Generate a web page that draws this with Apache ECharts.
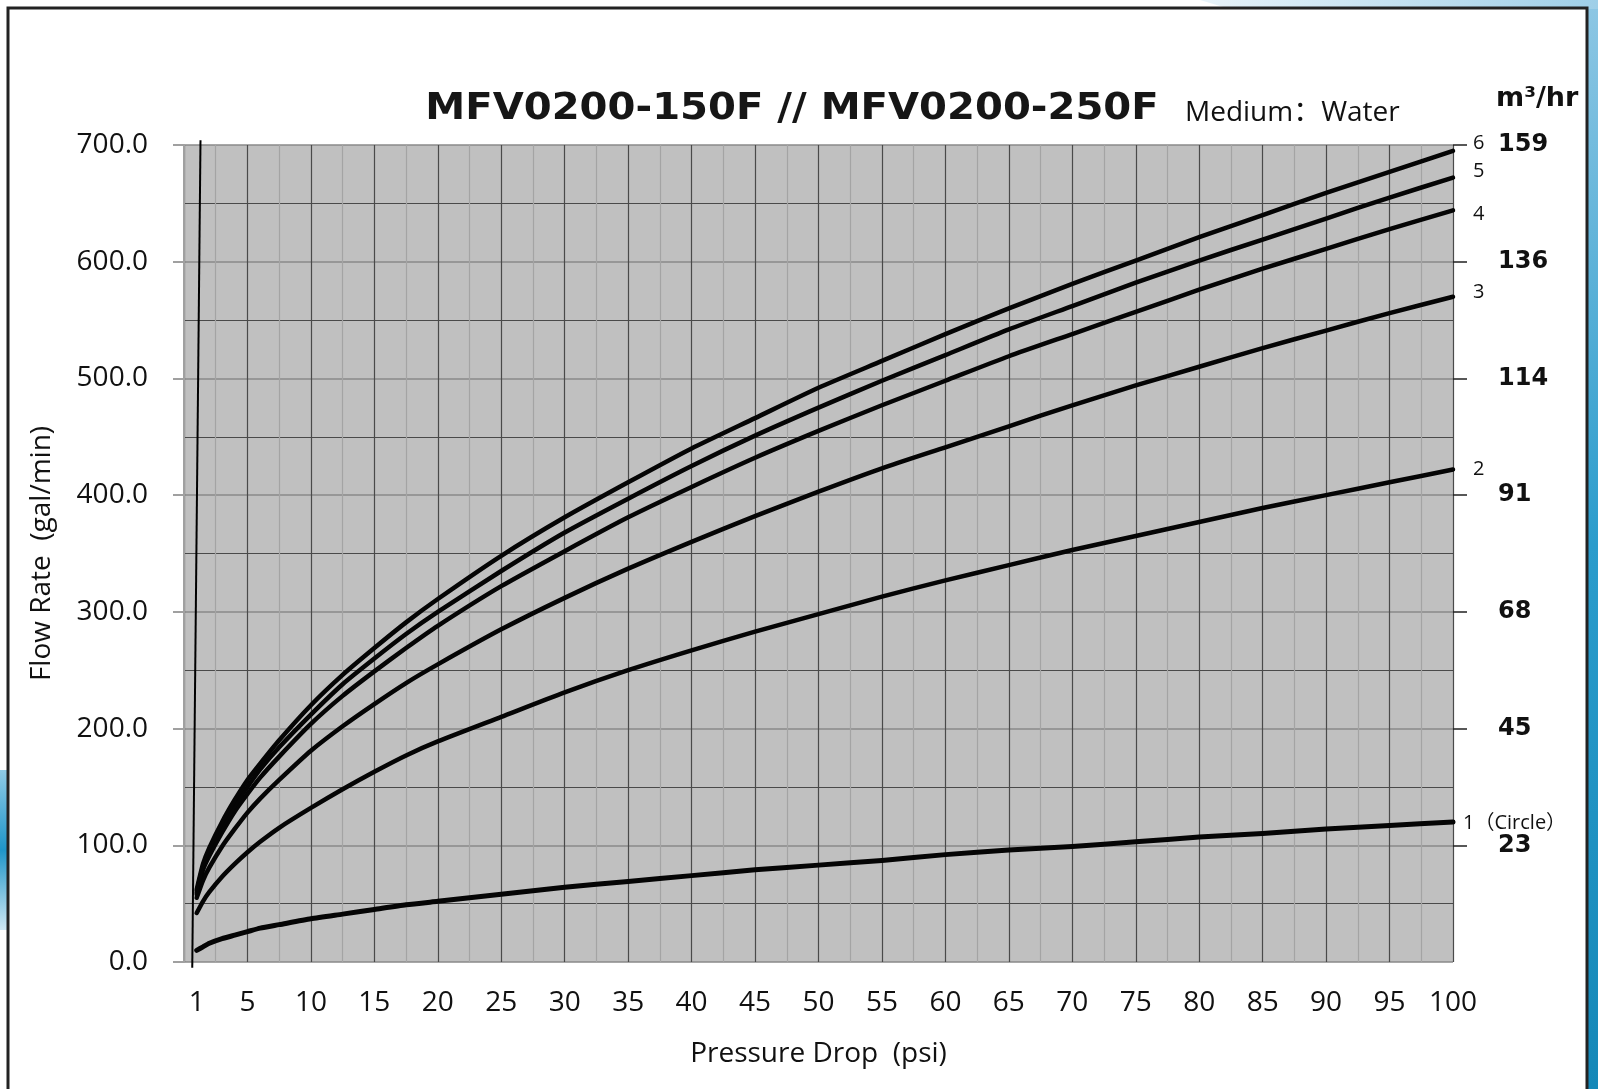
<!DOCTYPE html>
<html>
<head>
<meta charset="utf-8">
<script src="https://cdn.jsdelivr.net/npm/echarts@6/dist/echarts.min.js"></script>
<style>html,body{margin:0;padding:0;background:#fff}#c{width:1598px;height:1089px}</style>
</head>
<body>
<div id="c"></div>
<script>
// ---- data ----
const pressure = [1, 1.5, 2, 3, 4, 5, 6, 7.5, 10, 12.5, 15, 17.5, 20, 25, 30, 35, 40, 45, 50, 55, 60, 65, 70, 75, 80, 85, 90, 95, 100];
const curve1 = [10, 13, 16, 20, 23, 26, 29, 32, 37, 41, 45, 49, 52, 58, 64, 69, 74, 79, 83, 87, 92, 96, 99, 103, 107, 110, 114, 117, 120];
const curve2 = [42, 52, 60, 73, 84, 94, 103, 115, 132, 148, 163, 177, 189, 210, 231, 250, 267, 283, 298, 313, 327, 340, 353, 365, 377, 389, 400, 411, 422];
const curve3 = [55, 70, 81, 99, 114, 128, 140, 156, 181, 202, 221, 239, 255, 285, 312, 337, 360, 382, 403, 423, 441, 459, 477, 494, 510, 526, 541, 556, 570];
const curve4 = [58, 79, 91, 111, 129, 144, 158, 176, 204, 228, 249, 269, 288, 322, 352, 381, 407, 432, 455, 477, 498, 519, 538, 557, 576, 594, 611, 628, 644];
const curve5 = [60, 82, 95, 116, 134, 150, 165, 184, 212, 238, 260, 281, 300, 335, 368, 397, 425, 451, 475, 498, 520, 542, 562, 582, 601, 619, 637, 655, 672];
const curve6 = [62, 84, 98, 120, 139, 156, 170, 190, 220, 246, 269, 291, 311, 348, 381, 411, 440, 466, 492, 515, 538, 560, 581, 601, 621, 640, 659, 677, 695];
const curveNames = ['1（Circle）', '2', '3', '4', '5', '6'];
const xTickLabels = [1, 5, 10, 15, 20, 25, 30, 35, 40, 45, 50, 55, 60, 65, 70, 75, 80, 85, 90, 95, 100];
const m3TickValues = [100, 200, 300, 400, 500, 600, 700];
const m3TickLabels = ['23', '45', '68', '91', '114', '136', '159'];
const axisRefLine = [[0.65, -5], [1.3, 704]];

const curves = [curve1, curve2, curve3, curve4, curve5, curve6];
const labelOffsets = [[10, 1], [20, 0], [20, -4], [20, 4], [20, -6], [20, -8]];

const chart = echarts.init(document.getElementById('c'), null, {renderer: 'canvas'});
const txtFont = "'Open Sans', 'Noto Sans CJK SC', sans-serif";
const boldFont = "'DejaVu Sans', 'Noto Sans', sans-serif";

const series = curves.map((c, i) => ({
  type: 'line',
  name: curveNames[i],
  data: pressure.map((p, j) => [p, c[j]]),
  smooth: 0.2,
  showSymbol: false,
  symbol: 'none',
  silent: true,
  lineStyle: {color: '#050505', width: i === 0 ? 5 : 4.5, join: 'round', cap: 'round'},
  endLabel: {
    show: true,
    formatter: curveNames[i],
    distance: 0,
    offset: labelOffsets[i],
    fontFamily: txtFont,
    fontSize: 20,
    color: '#111'
  },
  z: 5
}));
series.push({
  type: 'line',
  data: axisRefLine,
  clip: false,
  showSymbol: false,
  symbol: 'none',
  silent: true,
  lineStyle: {color: '#000', width: 2},
  z: 6
});

const option = {
  backgroundColor: '#ffffff',
  animation: false,
  grid: {left: 184, top: 145, right: 145, bottom: 127, show: true, backgroundColor: '#c0c0c0', borderWidth: 0},
  xAxis: {
    type: 'value', min: 0, max: 100, interval: 5,
    name: 'Pressure Drop  (psi)', nameLocation: 'middle', nameGap: 78,
    nameTextStyle: {fontFamily: txtFont, fontSize: 28, color: '#111'},
    axisLine: {show: false},
    axisTick: {show: false},
    axisLabel: {customValues: xTickLabels, fontFamily: txtFont, fontSize: 28, color: '#111', margin: 27},
    splitLine: {show: true, lineStyle: {color: '#4a4a4a', width: 1.2}},
    minorTick: {show: false, splitNumber: 2},
    minorSplitLine: {show: true, lineStyle: {color: '#a4a4a4', width: 1.2}}
  },
  yAxis: [{
    type: 'value', min: 0, max: 700, interval: 100,
    name: 'Flow Rate  (gal/min)', nameLocation: 'middle', nameGap: 128,
    nameTextStyle: {fontFamily: txtFont, fontSize: 28, color: '#111'},
    axisLine: {show: true, lineStyle: {color: '#a0a0a0', width: 2}},
    axisTick: {show: true, length: 11, lineStyle: {color: '#a0a0a0', width: 2}},
    axisLabel: {formatter: v => v.toFixed(1), fontFamily: txtFont, fontSize: 28, color: '#111', margin: 36},
    splitLine: {show: true, lineStyle: {color: '#8a8a8a', width: 1.5}},
    minorTick: {show: false, splitNumber: 2},
    minorSplitLine: {show: true, lineStyle: {color: '#4a4a4a', width: 1.2}}
  }, {
    type: 'value', min: 0, max: 700, interval: 100, position: 'right',
    axisLine: {show: false},
    axisTick: {show: true, customValues: m3TickValues, length: 14, lineStyle: {color: '#222', width: 1.5}},
    axisLabel: {
      customValues: m3TickValues,
      formatter: v => m3TickLabels[m3TickValues.indexOf(v)] || '',
      fontFamily: boldFont, fontWeight: 'bold', fontSize: 24, color: '#111', margin: 45, align: 'left'
    },
    splitLine: {show: false}
  }],
  series: series,
  graphic: [
    {type: 'rect', shape: {x: 1588, y: 0, width: 10, height: 1089}, style: {fill: new echarts.graphic.LinearGradient(0, 0, 0, 1, [{offset: 0, color: '#8ec7e4'}, {offset: 0.5, color: '#2b9ccc'}, {offset: 1, color: '#1588b8'}])}, silent: true},
    {type: 'polygon', shape: {points: [[1200, 0], [1598, 0], [1598, 9], [1230, 9]]}, style: {fill: new echarts.graphic.LinearGradient(0, 0, 1, 0, [{offset: 0, color: '#e8f3f9'}, {offset: 1, color: '#9fcfe8'}])}, silent: true},
    {type: 'rect', shape: {x: 0, y: 770, width: 8, height: 160}, style: {fill: new echarts.graphic.LinearGradient(0, 0, 0, 1, [{offset: 0, color: '#8fcbe6'}, {offset: 0.5, color: '#1f95c8'}, {offset: 1, color: '#cfe8f4'}])}, silent: true},
    {type: 'rect', shape: {x: 8, y: 8, width: 1579, height: 1090}, style: {fill: 'none', stroke: '#222', lineWidth: 3}, silent: true},
    {type: 'text', x: 792, y: 109, originX: 0, originY: 0, scaleX: 1.085, style: {text: 'MFV0200-150F // MFV0200-250F', fontFamily: boldFont, fontWeight: 'bold', fontSize: 37, fill: '#161616', align: 'center', verticalAlign: 'middle'}, silent: true},
    {type: 'text', x: 1185, y: 113, style: {text: 'Medium：Water', fontFamily: txtFont, fontSize: 28, fill: '#111', align: 'left', verticalAlign: 'middle'}, silent: true},
    {type: 'text', x: 1496, y: 99, style: {text: 'm³/hr', fontFamily: boldFont, fontWeight: 'bold', fontSize: 27, fill: '#111', align: 'left', verticalAlign: 'middle'}, silent: true}
  ]
};
chart.setOption(option);
</script>
</body>
</html>
